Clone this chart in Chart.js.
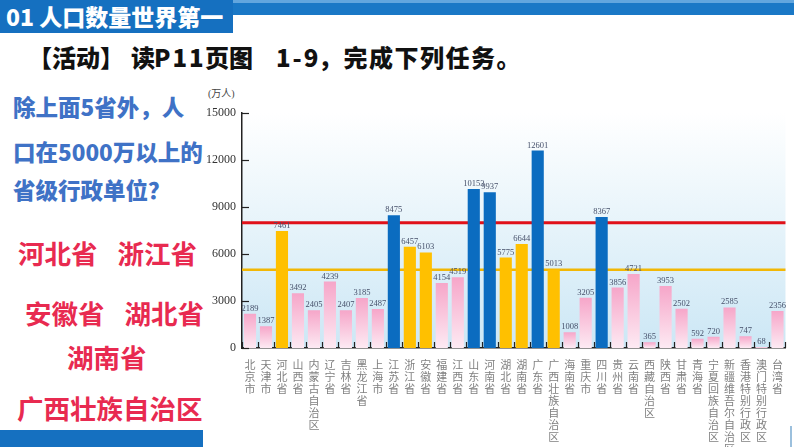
<!DOCTYPE html>
<html><head><meta charset="utf-8">
<script src="https://cdn.jsdelivr.net/npm/chart.js@4/dist/chart.umd.min.js"></script>
<style>
html,body{margin:0;padding:0;width:794px;height:447px;overflow:hidden;background:#fff;}
.t{position:absolute;white-space:nowrap;font-family:"Noto Sans CJK SC","Noto Sans",sans-serif;text-spacing-trim:space-all;}
.a{top:42px;font-size:24px;line-height:30px;font-weight:900;color:#111;}
.g{display:inline-block;width:20px;}
#wrap{position:absolute;left:200px;top:85px;width:594px;height:362px;}
</style></head><body>
<div style="position:absolute;left:0;top:0;width:233px;height:33px;background:#1570c0"></div>
<div style="position:absolute;left:233px;top:0;width:561px;height:15px;background:#1a78c6"></div>
<div style="position:absolute;left:233px;top:0;width:561px;height:3px;background:#62a6de"></div>
<div class="t" style="left:6px;top:1px;font-size:23px;line-height:30px;font-weight:900;color:#fff">01 人口数量世界第一</div>

<div class="t a" style="left:28px">【活动】</div>
<div class="t a" style="left:131px">读</div>
<div class="t a" style="left:154px;letter-spacing:2px">P11</div>
<div class="t a" style="left:205px">页图</div>
<div class="t a" style="left:276px;letter-spacing:2px">1-9</div>
<div class="t a" style="left:318px;letter-spacing:1.5px">，完成下列任务。</div>

<div class="t" style="left:13px;top:93px;font-size:22.5px;line-height:27px;font-weight:900;color:#3f72c6">除上面5省外，人</div>
<div class="t" style="left:13px;top:138px;font-size:22.5px;line-height:27px;font-weight:900;color:#3f72c6">口在5000万以上的</div>
<div class="t" style="left:13px;top:176px;font-size:22.5px;line-height:27px;font-weight:900;color:#3f72c6">省级行政单位？</div>

<div class="t" style="left:18px;top:238px;font-size:26.5px;line-height:30px;font-weight:700;color:#e82a50">河北省<span class="g"></span>浙江省</div>
<div class="t" style="left:25px;top:298px;font-size:26.5px;line-height:30px;font-weight:700;color:#e82a50">安徽省<span class="g"></span>湖北省</div>
<div class="t" style="left:67px;top:342px;font-size:26.5px;line-height:30px;font-weight:700;color:#e82a50">湖南省</div>
<div class="t" style="left:17px;top:393px;font-size:26.5px;line-height:30px;font-weight:700;color:#e82a50">广西壮族自治区</div>
<div style="position:absolute;left:0;top:430px;width:203px;height:17px;background:#1570c0"></div>
<div style="position:absolute;left:790px;top:426px;width:2px;height:21px;background:#9cc0dd"></div>

<div class="t" style="left:208px;top:88px;font-size:10px;line-height:12px;color:#444;font-family:'Liberation Serif','Noto Sans CJK SC',serif">(万人)</div>
<div id="wrap"><canvas id="c" width="594" height="362"></canvas></div>
<script>
const categories = ['北京市','天津市','河北省','山西省','内蒙古自治区','辽宁省','吉林省','黑龙江省','上海市','江苏省','浙江省','安徽省','福建省','江西省','山东省','河南省','湖北省','湖南省','广东省','广西壮族自治区','海南省','重庆市','四川省','贵州省','云南省','西藏自治区','陕西省','甘肃省','青海省','宁夏回族自治区','新疆维吾尔自治区','香港特别行政区','澳门特别行政区','台湾省'];
const population = [2189,1387,7461,3492,2405,4239,2407,3185,2487,8475,6457,6103,4154,4519,10153,9937,5775,6644,12601,5013,1008,3205,8367,3856,4721,365,3953,2502,592,720,2585,747,68,2356];
const top5Provinces = ['江苏省','山东省','河南省','广东省','四川省'];
const over5000Provinces = ['河北省','浙江省','安徽省','湖北省','湖南省','广西壮族自治区'];
const yTicks = [0,3000,6000,9000,12000,15000];
const redLineValue = 8000;
const orangeLineValue = 5000;

function barColor(ctx){
  const name = categories[ctx.dataIndex];
  if (top5Provinces.includes(name)) return '#0b6cc0';
  if (over5000Provinces.includes(name)) return '#ffc000';
  const chart = ctx.chart, y = chart.scales && chart.scales.y;
  if (!y) return '#f8c3da';
  const top = y.getPixelForValue(population[ctx.dataIndex]);
  const bot = y.getPixelForValue(0);
  if (!isFinite(top) || !isFinite(bot) || bot - top < 1) return '#f8c3da';
  const g = chart.ctx.createLinearGradient(0, top, 0, bot);
  g.addColorStop(0, '#f6a6c9');
  g.addColorStop(1, '#fdeaf3');
  return g;
}

const decor = {
  id: 'decor',
  beforeDraw(chart){
    const {ctx, chartArea: a} = chart;
    const g = ctx.createLinearGradient(0, a.top, 0, a.bottom);
    g.addColorStop(0, '#ffffff');
    g.addColorStop(1, '#cce7f5');
    ctx.save();
    ctx.fillStyle = g;
    ctx.fillRect(a.left, a.top, a.right - a.left, a.bottom - a.top);
    ctx.restore();
  },
  beforeDatasetsDraw(chart){
    const {ctx, chartArea: a, scales: {y}} = chart;
    ctx.save();
    let yy = y.getPixelForValue(orangeLineValue);
    ctx.strokeStyle = '#f2b705'; ctx.lineWidth = 2.5;
    ctx.beginPath(); ctx.moveTo(a.left, yy); ctx.lineTo(a.right, yy); ctx.stroke();
    yy = y.getPixelForValue(redLineValue);
    ctx.strokeStyle = '#e01119'; ctx.lineWidth = 3;
    ctx.beginPath(); ctx.moveTo(a.left, yy); ctx.lineTo(a.right, yy); ctx.stroke();
    ctx.restore();
  },
  afterDatasetsDraw(chart){
    const {ctx, chartArea: a, scales: {x, y}} = chart;
    ctx.save();
    ctx.strokeStyle = '#222'; ctx.lineWidth = 1.2;
    for (let i = 0; i <= categories.length; i++){
      const px = Math.round(x.getPixelForValue(i - 0.5)) + 0.5;
      ctx.beginPath(); ctx.moveTo(px, a.bottom); ctx.lineTo(px, a.bottom - 6); ctx.stroke();
    }
    yTicks.forEach(v => {
      const py = Math.round(y.getPixelForValue(v)) + 0.5;
      ctx.beginPath(); ctx.moveTo(a.left, py); ctx.lineTo(a.left + 7, py); ctx.stroke();
    });
    ctx.fillStyle = '#46506a';
    ctx.font = '8.5px "Liberation Serif", serif';
    ctx.textAlign = 'center'; ctx.textBaseline = 'bottom';
    chart.getDatasetMeta(0).data.forEach((el, i) => {
      ctx.fillText(String(population[i]), el.x, el.y - 1);
    });
    ctx.restore();
  }
};

new Chart(document.getElementById('c'), {
  type: 'bar',
  data: {
    labels: categories.map(s => s.split('')),
    datasets: [{
      data: population,
      backgroundColor: barColor,
      borderWidth: 0,
      barPercentage: 0.76,
      categoryPercentage: 1
    }]
  },
  options: {
    responsive: false,
    animation: false,
    events: [],
    layout: {padding: {top: 28, right: 1, left: 0, bottom: 0}},
    plugins: {legend: {display: false}, tooltip: {enabled: false}},
    scales: {
      x: {
        grid: {display: false, drawTicks: false},
        border: {display: true, color: '#222', width: 1.5},
        ticks: {autoSkip: false, maxRotation: 0, minRotation: 0, padding: 11, color: '#808080',
          font: {family: '"Noto Sans CJK SC", sans-serif', size: 11, lineHeight: '12px'}},
        afterFit(s){ s.height = 99; }
      },
      y: {
        min: 0, max: 15000,
        afterBuildTicks(s){ s.ticks = yTicks.map(v => ({value: v})); },
        grid: {display: false, drawTicks: false},
        border: {display: true, color: '#222', width: 1.5},
        ticks: {padding: 6, color: '#333', callback: v => String(v),
          font: {family: 'Liberation Serif', size: 12}},
        afterFit(s){ s.width = 42; }
      }
    }
  },
  plugins: [decor]
});
</script>
</body></html>
